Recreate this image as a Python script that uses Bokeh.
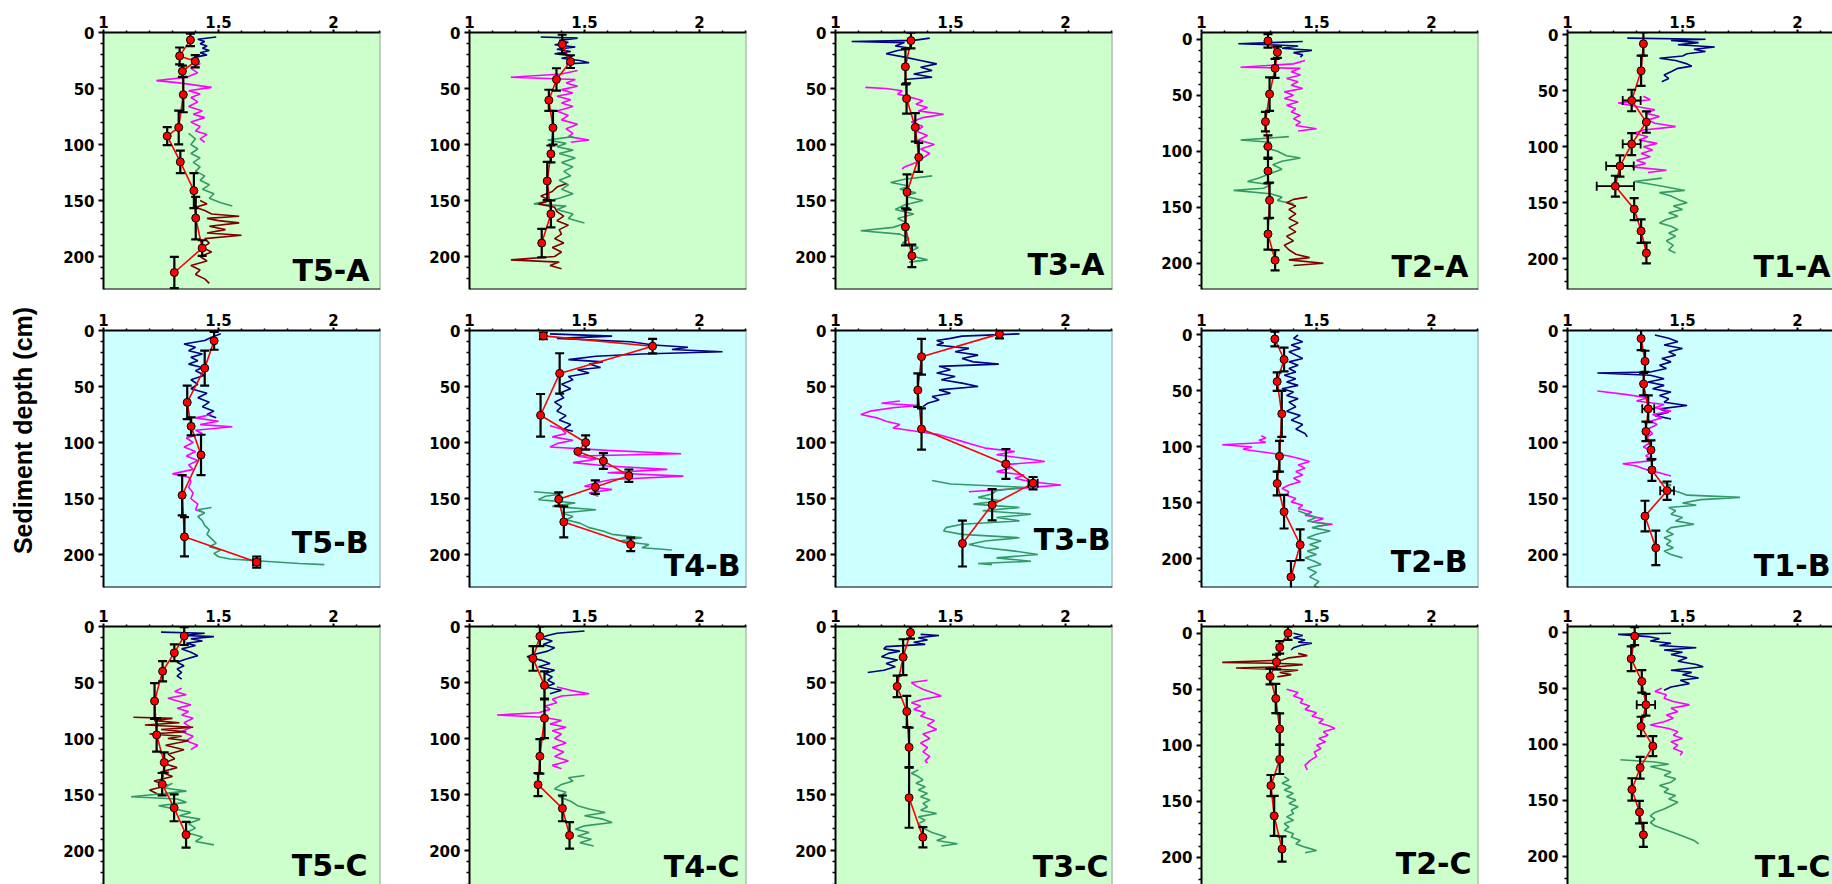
import math
from bokeh.plotting import figure
from bokeh.layouts import row, column
from bokeh.models import Range1d, FixedTicker, Span
from bokeh.core.properties import value
from bokeh.embed import file_html
from bokeh.resources import INLINE

# ======================= DATA =======================
# Red series: depth (cm), value, depth error, value error ; traces: depth / value
# ---- T5-A ----
T5A_d = [6.6, 20.9, 25.7, 34.6, 55.5, 84.8, 92.5, 115.5, 141.2, 165.7, 192.5, 214.3]
T5A_x = [1.378, 1.331, 1.399, 1.343, 1.347, 1.327, 1.277, 1.334, 1.393, 1.401, 1.429, 1.308]
T5A_de = [5.5, 7.5, 5.5, 5, 15.7, 15, 8, 10, 15.6, 19, 7, 14]
T5A_blue_d = [4, 6, 8, 10, 12, 14, 16, 18, 20, 22, 24]
T5A_blue_v = [1.49, 1.41, 1.44, 1.42, 1.45, 1.43, 1.46, 1.42, 1.45, 1.40, 1.38]
T5A_mag_d = [25, 28, 32, 36, 40, 43, 45, 47, 49, 52, 55, 58, 62, 66, 70, 73, 76, 80, 84, 88, 91, 95, 98]
T5A_mag_v = [1.40, 1.42, 1.38, 1.41, 1.36, 1.23, 1.33, 1.40, 1.47, 1.37, 1.42, 1.38, 1.41, 1.37, 1.43, 1.39, 1.44, 1.38, 1.42, 1.40, 1.45, 1.42, 1.44]
T5A_grn_d = [90, 95, 100, 104, 108, 112, 116, 120, 124, 128, 132, 136, 140, 144, 148, 152, 155]
T5A_grn_v = [1.37, 1.40, 1.38, 1.41, 1.38, 1.42, 1.39, 1.42, 1.40, 1.44, 1.42, 1.46, 1.43, 1.48, 1.46, 1.51, 1.56]
T5A_red_d = [150, 153, 156, 159, 162, 164, 166, 168, 170, 173, 176, 179, 181, 184, 188, 192, 196, 200, 204, 208, 212, 216, 220, 224]
T5A_red_v = [1.42, 1.45, 1.40, 1.44, 1.47, 1.59, 1.45, 1.50, 1.59, 1.46, 1.53, 1.45, 1.60, 1.44, 1.46, 1.43, 1.47, 1.42, 1.45, 1.38, 1.42, 1.40, 1.44, 1.46]

# ---- T4-A ----
T4A_d = [10.5, 26, 41.9, 60.5, 85, 108.4, 132.6, 162, 188]
T4A_x = [1.403, 1.439, 1.378, 1.345, 1.363, 1.354, 1.338, 1.354, 1.314]
T4A_de = [8.5, 5.7, 10, 9.4, 15, 7.5, 17, 12, 12.7]
T4A_blue_d = [4, 5, 7, 9, 11, 13, 15, 17, 19, 21, 23, 25, 27, 28]
T4A_blue_v = [1.31, 1.47, 1.39, 1.43, 1.37, 1.46, 1.38, 1.44, 1.37, 1.45, 1.40, 1.48, 1.52, 1.42]
T4A_mag_d = [34, 37, 40, 42, 45, 48, 51, 54, 57, 60, 63, 66, 70, 74, 78, 82, 86, 90, 93, 96, 98]
T4A_mag_v = [1.47, 1.40, 1.18, 1.46, 1.42, 1.47, 1.40, 1.45, 1.38, 1.44, 1.40, 1.45, 1.38, 1.43, 1.40, 1.47, 1.42, 1.45, 1.43, 1.52, 1.44]
T4A_grn_d = [93, 96, 99, 102, 105, 108, 112, 116, 120, 124, 128, 132, 136, 140, 144, 148, 151, 153, 155, 158, 162, 166, 170]
T4A_grn_v = [1.45, 1.34, 1.42, 1.38, 1.45, 1.39, 1.46, 1.40, 1.45, 1.41, 1.44, 1.39, 1.43, 1.40, 1.45, 1.39, 1.33, 1.28, 1.42, 1.38, 1.45, 1.43, 1.50]
T4A_red_d = [135, 138, 142, 146, 150, 153, 156, 160, 164, 168, 172, 176, 180, 184, 188, 192, 196, 200, 203, 205, 208, 211]
T4A_red_v = [1.42, 1.38, 1.36, 1.31, 1.35, 1.30, 1.37, 1.38, 1.41, 1.38, 1.43, 1.39, 1.40, 1.37, 1.41, 1.36, 1.40, 1.37, 1.18, 1.39, 1.35, 1.40]

# ---- T3-A ----
T3A_d = [7.2, 30.6, 59, 84.6, 111.5, 142.4, 173.6, 199.4]
T3A_x = [1.328, 1.304, 1.309, 1.347, 1.362, 1.311, 1.304, 1.332]
T3A_de = [7, 15.7, 13.5, 12.7, 13, 15.7, 16.5, 10]
T3A_blue_d = [5, 7, 8, 9, 12, 14, 16, 19, 22, 25, 28, 31, 34, 37, 40, 42]
T3A_blue_v = [1.41, 1.34, 1.07, 1.30, 1.26, 1.33, 1.27, 1.22, 1.30, 1.37, 1.44, 1.37, 1.42, 1.34, 1.42, 1.30]
T3A_mag_d = [49, 50, 52, 55, 58, 61, 64, 67, 70, 73, 76, 80, 84, 88, 92, 96, 100, 104, 108, 112, 116, 120, 122]
T3A_mag_v = [1.13, 1.22, 1.29, 1.27, 1.33, 1.38, 1.35, 1.40, 1.36, 1.47, 1.38, 1.33, 1.38, 1.35, 1.40, 1.36, 1.43, 1.37, 1.41, 1.38, 1.35, 1.30, 1.29]
T3A_grn_d = [128, 131, 134, 137, 140, 143, 146, 150, 154, 158, 162, 166, 170, 174, 177, 180, 184, 188, 192, 196, 200, 203, 205]
T3A_grn_v = [1.42, 1.30, 1.24, 1.32, 1.28, 1.35, 1.30, 1.38, 1.30, 1.26, 1.34, 1.27, 1.31, 1.25, 1.11, 1.28, 1.32, 1.29, 1.36, 1.32, 1.34, 1.40, 1.32]

# ---- T2-A ----
T2A_d = [1.5, 11.7, 26, 49, 73.6, 95.8, 117.7, 143.8, 173.9, 197.3]
T2A_x = [1.289, 1.330, 1.320, 1.296, 1.278, 1.289, 1.289, 1.296, 1.289, 1.320]
T2A_de = [6, 5, 8.5, 15, 8.7, 10, 10.8, 15.7, 14, 9]
T2A_blue_d = [2, 4, 5, 6, 8, 10, 12, 14, 16]
T2A_blue_v = [1.44, 1.16, 1.30, 1.42, 1.35, 1.48, 1.40, 1.44, 1.43]
T2A_mag_d = [19, 22, 25, 26, 29, 32, 35, 38, 41, 44, 47, 50, 53, 56, 59, 62, 65, 68, 71, 74, 77, 80, 82]
T2A_mag_v = [1.45, 1.40, 1.17, 1.43, 1.39, 1.43, 1.37, 1.42, 1.39, 1.44, 1.36, 1.40, 1.36, 1.42, 1.37, 1.41, 1.39, 1.43, 1.40, 1.43, 1.41, 1.50, 1.42]
T2A_grn_d = [87, 90, 92, 96, 100, 104, 106, 109, 112, 116, 120, 124, 127, 130, 133, 135, 138, 141, 144, 147]
T2A_grn_v = [1.38, 1.17, 1.30, 1.27, 1.33, 1.37, 1.43, 1.35, 1.31, 1.35, 1.30, 1.25, 1.20, 1.30, 1.27, 1.14, 1.30, 1.35, 1.33, 1.40]
T2A_red_d = [141, 143, 146, 149, 152, 156, 160, 164, 168, 172, 176, 180, 184, 188, 192, 195, 197, 200, 202]
T2A_red_v = [1.46, 1.40, 1.37, 1.41, 1.38, 1.41, 1.38, 1.42, 1.38, 1.41, 1.37, 1.40, 1.36, 1.38, 1.41, 1.47, 1.38, 1.53, 1.40]

# ---- T1-A ----
T1A_d = [8.1, 32.2, 58.7, 78, 97.6, 117.2, 135.2, 155.7, 175.3, 194.9]
T1A_x = [1.330, 1.320, 1.279, 1.343, 1.279, 1.228, 1.208, 1.290, 1.320, 1.343]
T1A_de = [10.5, 13.5, 9.6, 9.5, 9.8, 9.5, 9.3, 9.8, 10.5, 9.2]
T1A_xe = [0, 0, 0.039, 0, 0.039, 0.06, 0.081, 0, 0, 0]
T1A_blue_d = [3, 4, 5, 7, 9, 11, 13, 15, 17, 19, 21, 23, 26, 28, 30, 33, 36, 39, 42]
T1A_blue_v = [1.26, 1.60, 1.45, 1.57, 1.48, 1.64, 1.55, 1.60, 1.52, 1.50, 1.40, 1.47, 1.52, 1.54, 1.48, 1.45, 1.42, 1.44, 1.41]
T1A_mag_d = [55, 58, 61, 64, 67, 70, 73, 76, 79, 82, 85, 88, 91, 94, 97, 100, 103, 106, 109, 112, 115, 118, 121, 123]
T1A_mag_v = [1.33, 1.36, 1.22, 1.30, 1.38, 1.34, 1.40, 1.35, 1.38, 1.47, 1.33, 1.29, 1.35, 1.31, 1.39, 1.33, 1.37, 1.32, 1.36, 1.30, 1.34, 1.28, 1.43, 1.35]
T1A_grn_d = [128, 131, 133, 136, 139, 141, 144, 147, 150, 153, 156, 159, 162, 165, 168, 171, 174, 177, 180, 184, 188, 192, 195]
T1A_grn_v = [1.41, 1.29, 1.35, 1.43, 1.51, 1.40, 1.45, 1.48, 1.52, 1.46, 1.50, 1.44, 1.48, 1.43, 1.40, 1.45, 1.48, 1.44, 1.47, 1.43, 1.46, 1.44, 1.47]

# ---- T5-B ----
T5B_d = [9.2, 33.6, 64.2, 85.6, 111.1, 147.1, 184.2, 206.8]
T5B_x = [1.481, 1.440, 1.364, 1.381, 1.424, 1.342, 1.352, 1.666]
T5B_de = [8, 15.6, 15, 8, 18, 18, 17.5, 5]
T5B_xe = [0, 0, 0, 0, 0, 0, 0, 0.016]
T5B_blue_d = [3, 6, 9, 12, 15, 18, 21, 24, 27, 30, 33, 36, 40, 44, 48, 52, 56, 60, 64, 68, 72, 75, 78]
T5B_blue_v = [1.51, 1.47, 1.44, 1.35, 1.40, 1.37, 1.43, 1.38, 1.41, 1.37, 1.43, 1.40, 1.44, 1.38, 1.41, 1.38, 1.45, 1.41, 1.46, 1.43, 1.48, 1.45, 1.49]
T5B_mag_d = [75, 78, 81, 84, 86, 89, 92, 96, 100, 104, 108, 112, 116, 120, 124, 128, 131, 135, 140, 145, 150, 155, 160, 162]
T5B_mag_v = [1.47, 1.40, 1.50, 1.42, 1.56, 1.40, 1.43, 1.36, 1.39, 1.35, 1.40, 1.36, 1.41, 1.37, 1.39, 1.30, 1.37, 1.38, 1.37, 1.39, 1.38, 1.41, 1.40, 1.43]
T5B_grn_d = [158, 160, 163, 166, 170, 174, 178, 182, 186, 190, 193, 196, 199, 202, 204, 206, 208, 209]
T5B_grn_v = [1.47, 1.41, 1.44, 1.41, 1.43, 1.44, 1.46, 1.45, 1.47, 1.49, 1.46, 1.51, 1.48, 1.50, 1.55, 1.70, 1.85, 1.96]

# ---- T4-B ----
T4B_d = [4.8, 14, 38.3, 75.7, 100, 108, 116.5, 129.6, 139.8, 150.6, 170.9, 191]
T4B_x = [1.321, 1.796, 1.392, 1.309, 1.505, 1.471, 1.582, 1.693, 1.547, 1.388, 1.410, 1.701]
T4B_de = [3, 6.5, 18, 19, 6.3, 0, 7, 5.5, 6, 6, 13.8, 6]
T4B_blue_d = [3, 5, 7, 10, 13, 15, 17, 19, 21, 23, 26, 28, 30, 33, 35, 38, 41, 44, 48, 52, 56, 60, 64, 68, 72, 76, 80, 84, 88, 90]
T4B_blue_v = [1.35, 1.62, 1.38, 1.70, 1.80, 1.95, 1.88, 2.10, 1.75, 1.55, 1.43, 1.58, 1.52, 1.57, 1.47, 1.52, 1.43, 1.45, 1.40, 1.44, 1.39, 1.41, 1.37, 1.40, 1.38, 1.42, 1.39, 1.44, 1.41, 1.45]
T4B_mag_d = [85, 88, 92, 95, 98, 101, 104, 107, 110, 112, 115, 118, 121, 124, 127, 130, 133, 136, 139, 142, 145, 148]
T4B_mag_v = [1.35, 1.40, 1.42, 1.36, 1.45, 1.38, 1.35, 1.60, 1.92, 1.47, 1.55, 1.45, 1.60, 1.86, 1.60, 1.93, 1.62, 1.55, 1.50, 1.62, 1.52, 1.56]
T4B_grn_d = [144, 146, 148, 151, 154, 157, 160, 163, 166, 169, 172, 176, 179, 182, 185, 188, 191, 194, 196]
T4B_grn_v = [1.28, 1.40, 1.33, 1.30, 1.46, 1.36, 1.55, 1.40, 1.45, 1.42, 1.48, 1.52, 1.58, 1.62, 1.75, 1.65, 1.78, 1.75, 1.88]

# ---- T3-B ----
T3B_d = [3, 23.4, 53.3, 88, 119.1, 136.3, 155.6, 190.2]
T3B_x = [1.713, 1.374, 1.358, 1.374, 1.741, 1.859, 1.681, 1.552]
T3B_de = [4, 16, 15, 18.4, 13.3, 5.5, 14, 20.5]
T3B_xe = [0, 0, 0, 0, 0, 0.02, 0, 0]
T3B_blue_d = [3, 5, 7, 9, 11, 13, 16, 19, 22, 25, 28, 30, 32, 35, 38, 41, 44, 47, 50, 53, 56, 59, 62, 65, 68]
T3B_blue_v = [1.80, 1.55, 1.50, 1.44, 1.47, 1.44, 1.58, 1.52, 1.62, 1.55, 1.60, 1.71, 1.45, 1.50, 1.44, 1.52, 1.46, 1.55, 1.62, 1.45, 1.50, 1.42, 1.45, 1.40, 1.38]
T3B_mag_d = [63, 65, 67, 69, 72, 75, 78, 81, 84, 87, 90, 93, 96, 99, 102, 105, 108, 111, 114, 117, 120, 123, 126, 129, 132, 135, 138, 141, 144]
T3B_mag_v = [1.28, 1.20, 1.36, 1.25, 1.15, 1.11, 1.18, 1.22, 1.28, 1.25, 1.35, 1.45, 1.50, 1.55, 1.60, 1.65, 1.78, 1.70, 1.82, 1.91, 1.72, 1.76, 1.70, 1.82, 1.78, 1.85, 1.98, 1.80, 1.58]
T3B_grn_d = [134, 137, 140, 143, 146, 149, 152, 155, 158, 161, 164, 167, 170, 173, 176, 179, 182, 185, 188, 191, 194, 197, 200, 203, 206, 208, 209]
T3B_grn_v = [1.42, 1.50, 1.82, 1.70, 1.68, 1.62, 1.72, 1.60, 1.80, 1.64, 1.85, 1.70, 1.80, 1.55, 1.48, 1.47, 1.55, 1.80, 1.65, 1.58, 1.65, 1.78, 1.88, 1.70, 1.85, 1.62, 1.68]

# ---- T2-B ----
T2B_d = [3.6, 21.9, 41.6, 70.4, 108.3, 132.6, 157.8, 187.3, 216.1]
T2B_x = [1.319, 1.359, 1.329, 1.349, 1.339, 1.329, 1.359, 1.429, 1.389]
T2B_de = [6.5, 10.6, 8.3, 20.5, 13.7, 10.6, 15, 13.8, 14.3]
T2B_blue_d = [0, 3, 6, 9, 12, 15, 18, 21, 24, 27, 30, 33, 36, 39, 42, 45, 48, 51, 54, 57, 60, 64, 68, 72, 76, 80, 84, 88, 91]
T2B_blue_v = [1.42, 1.40, 1.44, 1.39, 1.43, 1.38, 1.41, 1.44, 1.38, 1.42, 1.38, 1.41, 1.36, 1.41, 1.37, 1.42, 1.35, 1.40, 1.37, 1.42, 1.38, 1.41, 1.37, 1.43, 1.39, 1.44, 1.41, 1.45, 1.46]
T2B_mag_d = [90, 92, 94, 96, 98, 100, 102, 104, 106, 108, 110, 113, 116, 119, 122, 125, 128, 131, 134, 137, 140, 143, 146, 149, 152, 155, 158, 161, 164, 167, 169, 171]
T2B_mag_v = [1.26, 1.28, 1.25, 1.28, 1.09, 1.22, 1.18, 1.25, 1.32, 1.38, 1.42, 1.47, 1.42, 1.45, 1.41, 1.44, 1.40, 1.43, 1.38, 1.35, 1.38, 1.37, 1.41, 1.39, 1.44, 1.42, 1.48, 1.45, 1.53, 1.48, 1.57, 1.50]
T2B_grn_d = [157, 160, 163, 166, 169, 172, 175, 178, 181, 184, 187, 190, 193, 196, 199, 202, 205, 208, 212, 216, 220, 224, 227]
T2B_grn_v = [1.42, 1.46, 1.50, 1.46, 1.55, 1.48, 1.56, 1.50, 1.46, 1.52, 1.47, 1.51, 1.46, 1.50, 1.45, 1.49, 1.52, 1.46, 1.50, 1.47, 1.51, 1.49, 1.52]

# ---- T1-B ----
T1B_d = [7.2, 27.5, 47.8, 69.9, 90.1, 106.6, 124.5, 143, 165.7, 194]
T1B_x = [1.320, 1.337, 1.331, 1.351, 1.341, 1.363, 1.367, 1.433, 1.337, 1.384]
T1B_de = [10.4, 9.4, 10, 12, 8.7, 8.5, 9.7, 8.2, 13.7, 15.4]
T1B_xe = [0, 0, 0, 0.026, 0, 0, 0, 0.03, 0, 0]
T1B_blue_d = [4, 7, 10, 13, 16, 19, 22, 25, 28, 31, 34, 37, 38, 40, 43, 46, 49, 52, 55, 58, 61, 64, 67, 70, 73, 76, 79]
T1B_blue_v = [1.38, 1.44, 1.48, 1.42, 1.50, 1.44, 1.47, 1.41, 1.45, 1.40, 1.43, 1.36, 1.13, 1.36, 1.42, 1.35, 1.42, 1.37, 1.45, 1.40, 1.44, 1.42, 1.52, 1.40, 1.44, 1.38, 1.45]
T1B_mag_d = [54, 57, 60, 63, 66, 69, 72, 75, 78, 81, 84, 88, 92, 96, 100, 104, 108, 112, 116, 119, 121, 124, 127, 130]
T1B_mag_v = [1.13, 1.25, 1.35, 1.30, 1.42, 1.38, 1.45, 1.37, 1.41, 1.36, 1.39, 1.35, 1.37, 1.34, 1.36, 1.33, 1.37, 1.34, 1.38, 1.24, 1.30, 1.34, 1.40, 1.45]
T1B_grn_d = [135, 138, 141, 144, 147, 149, 151, 154, 156, 158, 161, 164, 167, 170, 173, 176, 179, 182, 185, 188, 191, 194, 197, 200, 203]
T1B_grn_v = [1.40, 1.45, 1.42, 1.48, 1.52, 1.75, 1.58, 1.50, 1.56, 1.44, 1.47, 1.45, 1.50, 1.47, 1.55, 1.45, 1.43, 1.46, 1.42, 1.45, 1.43, 1.46, 1.42, 1.45, 1.50]

# ---- T5-C ----
T5C_d = [8.5, 23.5, 40, 66.6, 96.8, 121.4, 140.8, 161.9, 185.9]
T5C_x = [1.351, 1.308, 1.257, 1.222, 1.231, 1.264, 1.255, 1.307, 1.359]
T5C_de = [8, 7.5, 9, 16, 15, 9, 10, 12, 11.5]
T5C_blue_d = [5, 6, 8, 9, 11, 13, 15, 17, 20, 23, 26, 29, 32, 35, 38, 41, 44, 47]
T5C_blue_v = [1.25, 1.44, 1.35, 1.48, 1.38, 1.43, 1.36, 1.40, 1.34, 1.38, 1.41, 1.36, 1.32, 1.35, 1.32, 1.34, 1.32, 1.34]
T5C_mag_d = [55, 58, 61, 64, 67, 70, 73, 76, 79, 82, 86, 90, 94, 98, 102, 106, 110]
T5C_mag_v = [1.34, 1.31, 1.36, 1.28, 1.33, 1.38, 1.32, 1.37, 1.34, 1.39, 1.35, 1.38, 1.34, 1.39, 1.36, 1.41, 1.38]
T5C_red_d = [81, 82, 84, 86, 88, 90, 92, 94, 96, 98, 100, 102, 106, 110, 114, 118, 122, 126, 130, 134, 138, 142, 146, 150]
T5C_red_v = [1.13, 1.30, 1.22, 1.33, 1.18, 1.39, 1.25, 1.36, 1.20, 1.34, 1.28, 1.37, 1.27, 1.35, 1.28, 1.31, 1.26, 1.32, 1.25, 1.30, 1.22, 1.28, 1.20, 1.24]
T5C_grn_d = [140, 144, 147, 150, 152, 154, 157, 160, 163, 166, 169, 172, 176, 180, 184, 188, 192, 195]
T5C_grn_v = [1.30, 1.26, 1.36, 1.22, 1.12, 1.32, 1.36, 1.24, 1.31, 1.38, 1.33, 1.42, 1.37, 1.40, 1.36, 1.43, 1.40, 1.48]

# ---- T4-C ----
T4C_d = [8.8, 28.5, 52.6, 82, 115.9, 141.2, 162.4, 186.5]
T4C_x = [1.306, 1.276, 1.326, 1.326, 1.306, 1.298, 1.404, 1.435]
T4C_de = [8.8, 11, 12.5, 17.6, 15.4, 10.3, 11.5, 11.8]
T4C_blue_d = [4, 6, 8, 10, 13, 16, 19, 22, 25, 27, 30, 33, 36, 39, 42, 45, 48, 51, 54, 57, 60]
T4C_blue_v = [1.50, 1.38, 1.34, 1.31, 1.36, 1.32, 1.37, 1.34, 1.28, 1.25, 1.31, 1.35, 1.30, 1.37, 1.33, 1.36, 1.34, 1.37, 1.33, 1.40, 1.35]
T4C_mag_d = [54, 57, 60, 62, 65, 68, 71, 74, 77, 79, 81, 84, 87, 90, 93, 96, 100, 104, 108, 112, 116, 120, 124, 127]
T4C_mag_v = [1.38, 1.44, 1.52, 1.40, 1.36, 1.38, 1.33, 1.35, 1.30, 1.12, 1.32, 1.40, 1.35, 1.42, 1.36, 1.40, 1.37, 1.42, 1.36, 1.41, 1.37, 1.43, 1.36, 1.40]
T4C_grn_d = [133, 135, 138, 141, 145, 148, 152, 156, 160, 163, 166, 169, 172, 175, 178, 181, 184, 187, 190, 193, 196]
T4C_grn_v = [1.50, 1.43, 1.45, 1.40, 1.37, 1.42, 1.39, 1.44, 1.47, 1.52, 1.59, 1.50, 1.58, 1.62, 1.50, 1.46, 1.52, 1.47, 1.53, 1.48, 1.54]

# ---- T3-C ----
T3C_d = [5.3, 27.4, 53.5, 75.9, 107.9, 152.9, 188.2]
T3C_x = [1.326, 1.294, 1.268, 1.310, 1.320, 1.320, 1.380]
T3C_de = [5.6, 16, 9.6, 14, 17.6, 26.8, 9]
T3C_blue_d = [7, 8, 10, 12, 14, 16, 18, 20, 22, 24, 27, 30, 33, 36, 39, 41]
T3C_blue_v = [1.37, 1.45, 1.36, 1.40, 1.34, 1.39, 1.22, 1.21, 1.28, 1.23, 1.20, 1.27, 1.22, 1.26, 1.21, 1.14]
T3C_mag_d = [48, 50, 53, 56, 59, 62, 65, 68, 71, 74, 77, 80, 84, 88, 92, 96, 100, 104, 108, 112, 116, 120, 122]
T3C_mag_v = [1.40, 1.33, 1.35, 1.38, 1.42, 1.46, 1.38, 1.33, 1.37, 1.34, 1.39, 1.37, 1.43, 1.40, 1.44, 1.38, 1.41, 1.37, 1.40, 1.38, 1.41, 1.39, 1.40]
T3C_grn_d = [128, 131, 134, 137, 140, 143, 146, 149, 152, 155, 158, 161, 164, 167, 170, 173, 176, 180, 184, 188, 191, 194, 196]
T3C_grn_v = [1.36, 1.33, 1.36, 1.38, 1.35, 1.39, 1.36, 1.40, 1.37, 1.41, 1.38, 1.40, 1.37, 1.44, 1.36, 1.39, 1.36, 1.38, 1.42, 1.48, 1.44, 1.53, 1.46]

# ---- T2-C ----
T2C_d = [0, 12.7, 25.7, 38.7, 58.3, 85.5, 112.7, 136, 163.1, 192.7]
T2C_x = [1.376, 1.340, 1.326, 1.298, 1.323, 1.340, 1.340, 1.302, 1.316, 1.350]
T2C_de = [6, 5.6, 6.5, 7, 13, 14, 13, 9.4, 17.8, 11.3]
T2C_blue_d = [0, 2, 4, 6, 8, 9, 11, 13, 15]
T2C_blue_v = [1.40, 1.44, 1.40, 1.45, 1.42, 1.48, 1.43, 1.40, 1.39]
T2C_red_d = [18, 20, 22, 24, 26, 27, 28, 30, 31, 33, 35, 37, 39]
T2C_red_v = [1.42, 1.46, 1.38, 1.35, 1.09, 1.35, 1.44, 1.33, 1.15, 1.42, 1.34, 1.39, 1.33]
T2C_mag_d = [50, 53, 56, 59, 62, 65, 68, 71, 74, 77, 80, 83, 85, 88, 91, 94, 97, 100, 103, 106, 110, 114, 118, 122]
T2C_mag_v = [1.37, 1.42, 1.40, 1.44, 1.43, 1.47, 1.45, 1.50, 1.48, 1.53, 1.51, 1.56, 1.58, 1.53, 1.55, 1.51, 1.54, 1.50, 1.52, 1.49, 1.50, 1.47, 1.45, 1.46]
T2C_grn_d = [128, 131, 134, 137, 140, 143, 146, 149, 152, 155, 158, 161, 164, 167, 170, 173, 176, 179, 182, 185, 188, 191, 194, 196]
T2C_grn_v = [1.36, 1.38, 1.35, 1.39, 1.36, 1.40, 1.37, 1.41, 1.38, 1.42, 1.39, 1.40, 1.37, 1.40, 1.36, 1.38, 1.36, 1.40, 1.39, 1.43, 1.41, 1.45, 1.50, 1.45]

# ---- T1-C ----
T1C_d = [3.6, 23.8, 44, 64.9, 84.2, 101.8, 121.1, 140.5, 160.7, 181]
T1C_x = [1.292, 1.277, 1.323, 1.341, 1.320, 1.371, 1.316, 1.280, 1.313, 1.330]
T1C_de = [8, 11, 10, 9.7, 8.6, 9, 9.7, 10, 10, 10.7]
T1C_xe = [0, 0, 0, 0.04, 0, 0, 0, 0, 0, 0]
T1C_blue_d = [1, 2, 4, 6, 8, 10, 12, 14, 16, 18, 20, 23, 26, 29, 31, 34, 36, 38, 41, 43, 46, 49, 52]
T1C_blue_v = [1.45, 1.22, 1.35, 1.40, 1.36, 1.45, 1.40, 1.56, 1.42, 1.50, 1.45, 1.52, 1.48, 1.56, 1.59, 1.45, 1.54, 1.50, 1.57, 1.49, 1.53, 1.45, 1.42]
T1C_mag_d = [50, 53, 56, 59, 62, 65, 68, 71, 74, 77, 80, 83, 86, 89, 92, 95, 98, 101, 104, 107, 110]
T1C_mag_v = [1.41, 1.38, 1.43, 1.42, 1.46, 1.53, 1.45, 1.48, 1.43, 1.46, 1.42, 1.36, 1.44, 1.48, 1.46, 1.50, 1.45, 1.48, 1.46, 1.50, 1.49]
T1C_grn_d = [114, 116, 118, 120, 122, 125, 128, 131, 134, 137, 140, 143, 146, 149, 152, 155, 158, 161, 164, 167, 170, 173, 176, 179, 182, 186, 189]
T1C_grn_v = [1.23, 1.38, 1.44, 1.36, 1.40, 1.45, 1.42, 1.47, 1.45, 1.40, 1.44, 1.42, 1.47, 1.44, 1.48, 1.45, 1.42, 1.38, 1.36, 1.38, 1.36, 1.38, 1.42, 1.46, 1.50, 1.55, 1.57]

X_TICKS = [1, 1.5, 2]
X_TICK_LABELS = ["1", "1.5", "2"]
Y_TICKS = [0, 50, 100, 150, 200]
Y_LABEL = "Sediment depth (cm)"

# ======================= STYLE =======================
BLUE, MAG, GRN, DRED = "#000080", "#FF00FF", "#339966", "#800000"
BG_GREEN, BG_CYAN = "#CCFFCC", "#CCFFFF"
FONT = "DejaVu Sans"

PANELS = {
    "T5-A": (T5A_d, T5A_x, T5A_de, None, [(BLUE, T5A_blue_d, T5A_blue_v), (MAG, T5A_mag_d, T5A_mag_v), (GRN, T5A_grn_d, T5A_grn_v), (DRED, T5A_red_d, T5A_red_v)]),
    "T4-A": (T4A_d, T4A_x, T4A_de, None, [(BLUE, T4A_blue_d, T4A_blue_v), (MAG, T4A_mag_d, T4A_mag_v), (GRN, T4A_grn_d, T4A_grn_v), (DRED, T4A_red_d, T4A_red_v)]),
    "T3-A": (T3A_d, T3A_x, T3A_de, None, [(BLUE, T3A_blue_d, T3A_blue_v), (MAG, T3A_mag_d, T3A_mag_v), (GRN, T3A_grn_d, T3A_grn_v)]),
    "T2-A": (T2A_d, T2A_x, T2A_de, None, [(BLUE, T2A_blue_d, T2A_blue_v), (MAG, T2A_mag_d, T2A_mag_v), (GRN, T2A_grn_d, T2A_grn_v), (DRED, T2A_red_d, T2A_red_v)]),
    "T1-A": (T1A_d, T1A_x, T1A_de, T1A_xe, [(BLUE, T1A_blue_d, T1A_blue_v), (MAG, T1A_mag_d, T1A_mag_v), (GRN, T1A_grn_d, T1A_grn_v)]),
    "T5-B": (T5B_d, T5B_x, T5B_de, T5B_xe, [(BLUE, T5B_blue_d, T5B_blue_v), (MAG, T5B_mag_d, T5B_mag_v), (GRN, T5B_grn_d, T5B_grn_v)]),
    "T4-B": (T4B_d, T4B_x, T4B_de, None, [(BLUE, T4B_blue_d, T4B_blue_v), (MAG, T4B_mag_d, T4B_mag_v), (GRN, T4B_grn_d, T4B_grn_v)]),
    "T3-B": (T3B_d, T3B_x, T3B_de, T3B_xe, [(BLUE, T3B_blue_d, T3B_blue_v), (MAG, T3B_mag_d, T3B_mag_v), (GRN, T3B_grn_d, T3B_grn_v)]),
    "T2-B": (T2B_d, T2B_x, T2B_de, None, [(BLUE, T2B_blue_d, T2B_blue_v), (MAG, T2B_mag_d, T2B_mag_v), (GRN, T2B_grn_d, T2B_grn_v)]),
    "T1-B": (T1B_d, T1B_x, T1B_de, T1B_xe, [(BLUE, T1B_blue_d, T1B_blue_v), (MAG, T1B_mag_d, T1B_mag_v), (GRN, T1B_grn_d, T1B_grn_v)]),
    "T5-C": (T5C_d, T5C_x, T5C_de, None, [(BLUE, T5C_blue_d, T5C_blue_v), (MAG, T5C_mag_d, T5C_mag_v), (DRED, T5C_red_d, T5C_red_v), (GRN, T5C_grn_d, T5C_grn_v)]),
    "T4-C": (T4C_d, T4C_x, T4C_de, None, [(BLUE, T4C_blue_d, T4C_blue_v), (MAG, T4C_mag_d, T4C_mag_v), (GRN, T4C_grn_d, T4C_grn_v)]),
    "T3-C": (T3C_d, T3C_x, T3C_de, None, [(BLUE, T3C_blue_d, T3C_blue_v), (MAG, T3C_mag_d, T3C_mag_v), (GRN, T3C_grn_d, T3C_grn_v)]),
    "T2-C": (T2C_d, T2C_x, T2C_de, None, [(BLUE, T2C_blue_d, T2C_blue_v), (DRED, T2C_red_d, T2C_red_v), (MAG, T2C_mag_d, T2C_mag_v), (GRN, T2C_grn_d, T2C_grn_v)]),
    "T1-C": (T1C_d, T1C_x, T1C_de, T1C_xe, [(BLUE, T1C_blue_d, T1C_blue_v), (MAG, T1C_mag_d, T1C_mag_v), (GRN, T1C_grn_d, T1C_grn_v)]),
}
GRID = [["T5-A", "T4-A", "T3-A", "T2-A", "T1-A"],
        ["T5-B", "T4-B", "T3-B", "T2-B", "T1-B"],
        ["T5-C", "T4-C", "T3-C", "T2-C", "T1-C"]]
SHOW_LABEL = {"T4-A": False}
Y_TOP = {"T2-A": -6, "T1-A": -2, "T2-B": -4, "T2-C": -6, "T1-C": -5}
# label insets (px from frame right, px from frame bottom)
LABEL_INSET = {"T5-A": (11, 19), "T3-A": (8, 25), "T2-A": (10, 23), "T1-A": (2, 23),
               "T5-B": (12, 45), "T4-B": (6, 22), "T3-B": (2, 48), "T2-B": (11, 26), "T1-B": (2, 22),
               "T5-C": (13, 19), "T4-C": (7, 18), "T3-C": (4, 18), "T2-C": (7, 21), "T1-C": (2, 18)}

PX_X = 230.0   # px per unit value
PX_Y = 1.12    # px per cm
PAGE_W, PAGE_H = 1832, 884
FRAME_W = 277
LEFT_B, RIGHT_B = 62, 27
COL_W = LEFT_B + FRAME_W + RIGHT_B
TOP_B = [32, 24, 24]
BOTTOM_B = [17, 15, 0]
ROW_FRAME_H = [257, 257, 258]
YLAB_W = 41


def make_panel(name, r, c):
    d, x, de, xe, traces = PANELS[name]
    last = (c == 4)
    fw = PAGE_W - YLAB_W - 4 * COL_W - LEFT_B if last else FRAME_W
    rb = 0 if last else RIGHT_B
    fh = ROW_FRAME_H[r]
    ytop = Y_TOP.get(name, 0)
    ybot = ytop + fh / PX_Y
    xend = 1 + fw / PX_X
    p = figure(width=LEFT_B + fw + rb, height=TOP_B[r] + fh + BOTTOM_B[r],
               x_range=Range1d(1, xend), y_range=Range1d(ybot, ytop),
               x_axis_location="above", toolbar_location=None, output_backend="svg",
               min_border_left=LEFT_B, min_border_right=rb, min_border_top=TOP_B[r],
               min_border_bottom=BOTTOM_B[r])
    p.background_fill_color = BG_CYAN if r == 1 else BG_GREEN
    p.border_fill_color = "white"
    p.outline_line_color = None
    p.xgrid.visible = False
    p.ygrid.visible = False

    xa = p.xaxis[0]
    xa.ticker = FixedTicker(ticks=X_TICKS, minor_ticks=[1.1, 1.2, 1.3, 1.4, 1.6, 1.7, 1.8, 1.9, 2.1, 2.2])
    xa.major_label_overrides = {t: l for t, l in zip(X_TICKS, X_TICK_LABELS)}
    xa.major_tick_out, xa.major_tick_in = 3, 0
    xa.minor_tick_out, xa.minor_tick_in = 2, 0
    xa.major_label_standoff = 2
    ya = p.yaxis[0]
    ya.ticker = FixedTicker(ticks=Y_TICKS, minor_ticks=[v for v in range(-10, 240, 10) if v % 50])
    ya.major_tick_out, ya.major_tick_in = 5, 0
    ya.minor_tick_out, ya.minor_tick_in = 3, 0
    ya.major_label_standoff = 4
    for ax in (xa, ya):
        ax.axis_line_width = 2
        ax.axis_line_color = "black"
        ax.major_tick_line_width = 2
        ax.minor_tick_line_width = 1.5
        ax.major_label_text_font = FONT
        ax.major_label_text_font_style = "bold"
        ax.major_label_text_font_size = "15px"
        ax.major_label_text_color = "black"

    # frame edges
    if not last:
        p.add_layout(Span(location=xend, dimension="height", line_color="#A0A0A0", line_width=2))
    if r < 2:
        p.add_layout(Span(location=ybot, dimension="width", line_color="black", line_width=2))

    # traces
    for col, td, tv in traces:
        p.line(tv, td, line_color=col, line_width=1.6)

    # red profile
    p.line(x, d, line_color="#FF0000", line_width=1.6)

    # depth error bars
    bx = [xi for xi, e in zip(x, de) if e > 0]
    blo = [di - e for di, e in zip(d, de) if e > 0]
    bhi = [di + e for di, e in zip(d, de) if e > 0]
    p.segment(x0=bx, y0=blo, x1=bx, y1=bhi, line_color="black", line_width=2.2)
    p.scatter(x=bx + bx, y=blo + bhi, marker="dash", size=9, line_color="black", line_width=2.2)
    # value error bars
    if xe is not None:
        hy = [di for di, e in zip(d, xe) if e > 0]
        hlo = [xi - e for xi, e in zip(x, xe) if e > 0]
        hhi = [xi + e for xi, e in zip(x, xe) if e > 0]
        p.segment(x0=hlo, y0=hy, x1=hhi, y1=hy, line_color="black", line_width=1.8)
        p.scatter(x=hlo + hhi, y=hy + hy, marker="dash", angle=math.pi / 2, size=9,
                  line_color="black", line_width=1.8)

    # points
    p.scatter(x, d, marker="circle", size=8, fill_color="#FF0000", line_color="black", line_width=1)

    # panel label
    if SHOW_LABEL.get(name, True):
        ir, ib = LABEL_INSET[name]
        lx = 1 + (fw - ir) / PX_X
        ly = ytop + (fh - ib) / PX_Y
        p.text(x=[lx], y=[ly], text=[name], text_font=value(FONT), text_font_style="bold",
               text_font_size="30px", text_align="right", text_baseline="alphabetic",
               text_color="black")
    return p


rows = []
for r, names in enumerate(GRID):
    rows.append(row(*[make_panel(n, r, c) for c, n in enumerate(names)]))

ylab = figure(width=YLAB_W, height=PAGE_H, x_range=Range1d(0, YLAB_W), y_range=Range1d(0, PAGE_H),
              toolbar_location=None, output_backend="svg", min_border=0)
ylab.axis.visible = False
ylab.xgrid.visible = False
ylab.ygrid.visible = False
ylab.outline_line_color = None
ylab.text(x=[22], y=[PAGE_H - 430], text=[Y_LABEL], angle=math.pi / 2,
          text_font=value("Liberation Sans"), text_font_style="bold", text_font_size="25px",
          text_align="center", text_baseline="middle", text_color="black")

layout = row(ylab, column(*rows))
open("out.html", "w").write(file_html(layout, INLINE))
